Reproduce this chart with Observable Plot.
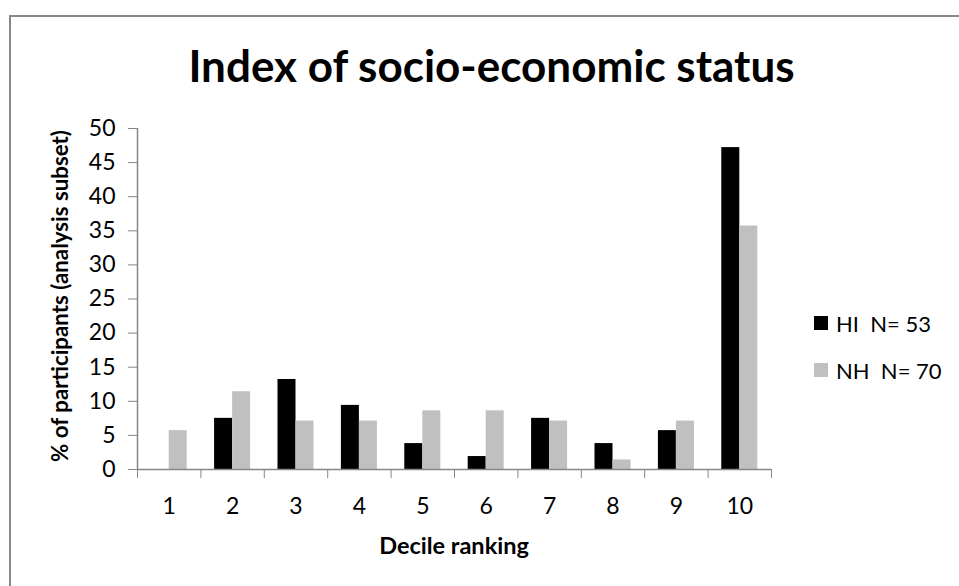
<!DOCTYPE html>
<html>
<head>
<meta charset="utf-8">
<script src="https://cdn.jsdelivr.net/npm/d3@7"></script>
<script src="https://cdn.jsdelivr.net/npm/@observablehq/plot@0.6"></script>
<style>
  html, body { margin: 0; padding: 0; background: #fff; }
  #chart { position: relative; width: 959px; height: 586px; overflow: hidden; font-family: Lato, "Open Sans", sans-serif; color: #000; }
  #frame { position: absolute; left: 9px; top: 15px; width: 1000px; height: 1000px; border-top: 2px solid #888; border-left: 2px solid #888; box-sizing: border-box; }
  #title { position: absolute; left: 0; width: 983px; top: 43px; text-align: center; font-weight: bold; font-size: 44px; line-height: 1; white-space: nowrap; }
  #ytitle { position: absolute; left: 60px; top: 296px; transform: translate(-50%, -50%) rotate(-90deg); font-weight: bold; font-size: 22.3px; white-space: nowrap; line-height: 1; }
  #xtitle { position: absolute; left: 454px; top: 534px; transform: translateX(-50%); font-weight: bold; font-size: 23.5px; white-space: nowrap; line-height: 1; }
  #legend { position: absolute; left: 814px; top: 311px; font-size: 22px; }
  .item { display: flex; align-items: center; height: 24px; margin-bottom: 23px; white-space: pre; }
  .swatch { width: 14px; height: 14px; margin-right: 8px; }
  #plot { position: absolute; left: 0; top: 0; }
</style>
</head>
<body>
<div id="chart">
  <div id="frame"></div>
  <div id="plot"></div>
  <div id="title">Index of socio-economic status</div>
  <div id="ytitle">% of participants (analysis subset)</div>
  <div id="xtitle">Decile ranking</div>
  <div id="legend"></div>
</div>
<script>
// Decile categories and the share of participants (%) in each group
const deciles = [1, 2, 3, 4, 5, 6, 7, 8, 9, 10];
const hiPct = [0, 7.5, 13.2, 9.4, 3.8, 1.9, 7.5, 3.8, 5.7, 47.2];
const nhPct = [5.7, 11.4, 7.1, 7.1, 8.6, 8.6, 7.1, 1.4, 7.1, 35.7];
const seriesNames = ["HI", "NH"];
const seriesN = [53, 70];
const seriesColors = ["#000000", "#c0c0c0"];
const yTicks = [0, 5, 10, 15, 20, 25, 30, 35, 40, 45, 50];

// bar width in decile units; the two bars of a group sit side by side
const barW = 0.284;

const rows = [];
deciles.forEach((d, i) => {
  rows.push({decile: d, series: "HI", value: hiPct[i], x1: d - barW, x2: d});
  rows.push({decile: d, series: "NH", value: nhPct[i], x1: d, x2: d + barW});
});

const axisGray = "#868686";
const boundaries = [0, ...deciles].map(d => d + 0.5);

const plot = Plot.plot({
  width: 959,
  height: 586,
  marginLeft: 137,
  marginRight: 188,
  marginTop: 128,
  marginBottom: 117,
  style: {fontFamily: "Lato, 'Open Sans', sans-serif", fontSize: "23px", background: "transparent", overflow: "visible"},
  x: {type: "linear", domain: [0.5, 10.5]},
  y: {domain: [0, 50]},
  color: {domain: seriesNames, range: seriesColors},
  marks: [
    Plot.rectY(rows, {x1: "x1", x2: "x2", y: "value", fill: "series"}),
    Plot.ruleY([0], {stroke: axisGray, strokeWidth: 1.5}),
    Plot.ruleX([0.5], {stroke: axisGray, strokeWidth: 1.5}),
    Plot.axisY({ticks: yTicks, tickSize: 9, tickPadding: 13, stroke: axisGray, label: null}),
    Plot.axisX({ticks: boundaries, tickSize: 9, tickFormat: () => "", stroke: axisGray, label: null}),
    Plot.axisX({ticks: deciles, tickSize: 0, tickPadding: 28, tickFormat: d => String(d), label: null})
  ]
});
document.getElementById("plot").appendChild(plot);

// legend
const legend = document.getElementById("legend");
seriesNames.forEach((name, i) => {
  const item = document.createElement("div");
  item.className = "item";
  const sw = document.createElement("span");
  sw.className = "swatch";
  sw.style.background = seriesColors[i];
  const label = document.createElement("span");
  label.textContent = `${name}  N= ${seriesN[i]}`;
  item.appendChild(sw);
  item.appendChild(label);
  legend.appendChild(item);
});
</script>
</body>
</html>
